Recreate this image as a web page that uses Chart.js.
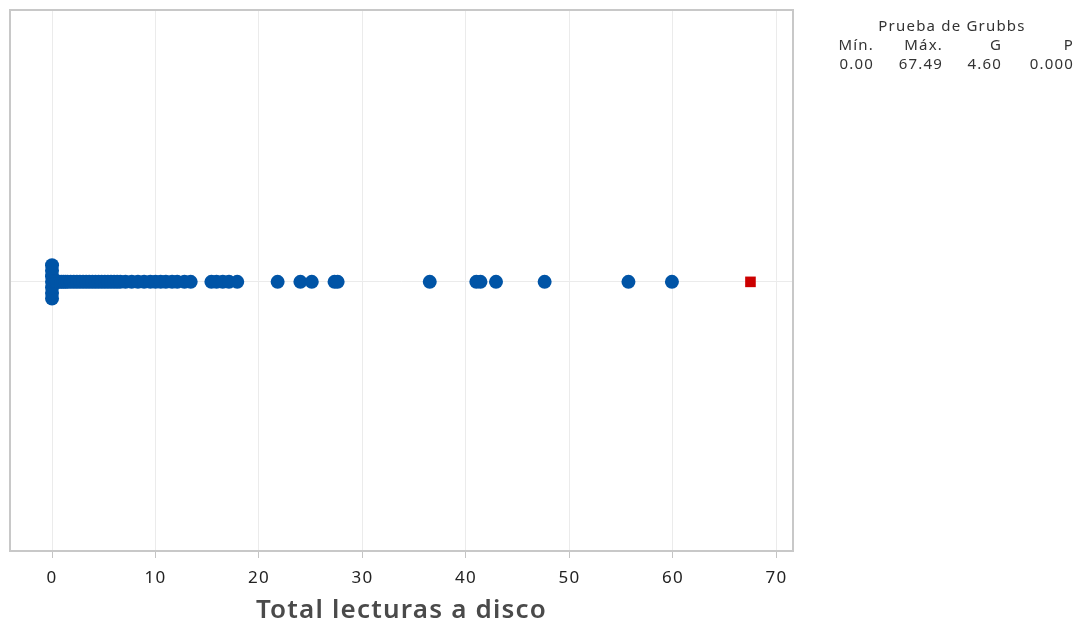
<!DOCTYPE html>
<html>
<head>
<meta charset="utf-8">
<script src="https://cdn.jsdelivr.net/npm/chart.js@4.4.1/dist/chart.umd.min.js"></script>
<style>
  html, body { margin: 0; padding: 0; background: #ffffff; }
  #wrap { width: 1077px; height: 627px; position: relative; }
</style>
</head>
<body>
<div id="wrap"><canvas id="c" width="1077" height="627"></canvas></div>
<script>
// Total disk reads per observation (regular values)
const readValues = [
  0, 0, 0, 0, 0, 0, 0,
  0.1, 0.2, 0.3, 0.4, 0.5, 0.7, 0.9, 1.1, 1.3, 1.5, 1.8, 2.1, 2.4, 2.7,
  3.0, 3.3, 3.6, 3.9, 4.2, 4.5, 4.8, 5.1, 5.4, 5.7, 6.0, 6.3, 6.6,
  7.1, 7.7, 8.3, 8.9, 9.5, 10.0, 10.5, 11.0, 11.6, 12.1, 12.8, 13.4,
  15.4, 15.9, 16.5, 17.1, 17.9,
  21.8, 24.0, 25.1, 27.3, 27.6,
  36.5, 41.0, 41.4, 42.9, 47.6, 55.7, 59.9
];
// Value flagged by Grubbs' test
const outlierValues = [67.49];

// Axis ticks
const xTickValues = [0, 10, 20, 30, 40, 50, 60, 70];

// Grubbs' test summary
const grubbsTitle = 'Prueba de Grubbs';
const grubbsHeaders = ['Mín.', 'Máx.', 'G', 'P'];
const grubbsResults = ['0.00', '67.49', '4.60', '0.000'];

// Repeated values are stacked symmetrically around the centre line
function stackPoints(values, step) {
  const counts = {};
  values.forEach(v => { counts[v] = (counts[v] || 0) + 1; });
  const seen = {};
  return values.map(v => {
    const n = counts[v];
    const i = seen[v] = (seen[v] === undefined ? 0 : seen[v] + 1);
    return { x: v, y: (i - (n - 1) / 2) * step };
  });
}

const FONT = "'Noto Sans', 'Open Sans', sans-serif";

// Slightly open lettering for all canvas text
const spacing = {
  id: 'spacing',
  beforeDraw(chart) { chart.ctx.letterSpacing = '1.2px'; }
};

const frame = {
  id: 'frame',
  afterDraw(chart) {
    const { ctx, chartArea: a } = chart;
    ctx.save();
    ctx.strokeStyle = '#c8c8c8';
    ctx.lineWidth = 2;
    ctx.strokeRect(a.left, a.top, a.right - a.left, a.bottom - a.top);
    ctx.restore();
  }
};

const summaryTable = {
  id: 'summaryTable',
  afterDraw(chart) {
    const ctx = chart.ctx;
    ctx.save();
    ctx.fillStyle = '#333333';
    ctx.font = '15px ' + FONT;
    ctx.letterSpacing = '1.2px';
    ctx.textBaseline = 'middle';
    ctx.textAlign = 'center';
    ctx.fillText(grubbsTitle, 952, 27);
    const cols = [874, 943, 1002, 1074];
    ctx.textAlign = 'right';
    grubbsHeaders.forEach((t, i) => ctx.fillText(t, cols[i], 46));
    grubbsResults.forEach((t, i) => ctx.fillText(t, cols[i], 65));
    ctx.restore();
  }
};

new Chart(document.getElementById('c'), {
  type: 'scatter',
  data: {
    datasets: [
      {
        label: 'Total lecturas a disco',
        data: stackPoints(readValues, 0.0205),
        backgroundColor: '#0054a6',
        borderColor: '#0054a6',
        borderWidth: 0,
        pointRadius: 7,
        pointHoverRadius: 7
      },
      {
        label: 'Valor atípico',
        data: stackPoints(outlierValues, 0.0205),
        pointStyle: 'rect',
        backgroundColor: '#cc0000',
        borderColor: '#cc0000',
        borderWidth: 0,
        pointRadius: 7.5,
        pointHoverRadius: 7.5
      }
    ]
  },
  options: {
    responsive: false,
    animation: false,
    layout: { padding: { left: 10, right: 284, top: 10, bottom: 0 } },
    plugins: {
      legend: { display: false },
      tooltip: { enabled: false }
    },
    scales: {
      x: {
        type: 'linear',
        min: -4.06,
        max: 71.6,
        afterBuildTicks: s => { s.ticks = xTickValues.map(v => ({ value: v })); },
        afterFit: s => { s.height = 76; },
        border: { display: false },
        grid: {
          color: '#ebebeb',
          lineWidth: 1,
          drawTicks: true,
          tickLength: 7,
          tickColor: '#c4c4c4'
        },
        ticks: {
          color: '#222222',
          font: { family: FONT, size: 17 },
          padding: 10,
          maxRotation: 0
        },
        title: {
          display: true,
          text: 'Total lecturas a disco',
          color: '#4a4a4a',
          font: { family: FONT, size: 26, weight: '600' },
          padding: { top: 0, bottom: 1 }
        }
      },
      y: {
        type: 'linear',
        min: -0.99,
        max: 1,
        afterBuildTicks: s => { s.ticks = [{ value: 0 }]; },
        afterFit: s => { s.width = 0; },
        border: { display: false },
        grid: { color: '#ebebeb', lineWidth: 1, drawTicks: false },
        ticks: { display: false }
      }
    }
  },
  plugins: [spacing, frame, summaryTable]
});
</script>
</body>
</html>
